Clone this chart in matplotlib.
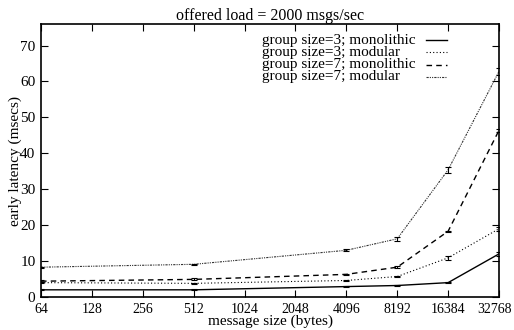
import numpy as np
import matplotlib.pyplot as plt
import matplotlib.transforms as mtransforms

# message sizes (bytes) and latencies (msecs)
sizes = [64, 512, 4096, 8192, 16384, 32768]
gs3_mono = [2.0, 2.0, 2.9, 3.2, 4.0, 12.0]
gs3_mod = [4.0, 3.8, 4.6, 5.7, 10.9, 19.0]
gs7_mono = [4.4, 4.9, 6.3, 8.3, 18.3, 46.4]
gs7_mod = [8.3, 9.1, 13.0, 16.2, 35.4, 62.8]

gs3_mono_err = [0.1, 0.1, 0.1, 0.1, 0.1, 0.5]
gs3_mod_err = [0.1, 0.2, 0.2, 0.2, 0.6, 0.6]
gs7_mono_err = [0.2, 0.3, 0.2, 0.2, 0.2, 0.4]
gs7_mod_err = [0.1, 0.2, 0.3, 0.5, 0.8, 1.0]

labels = ["group size=3; monolithic", "group size=3; modular",
          "group size=7; monolithic", "group size=7; modular"]
xticks = [64, 128, 256, 512, 1024, 2048, 4096, 8192, 16384, 32768]
yticks = [0, 10, 20, 30, 40, 50, 60, 70]

plt.rcParams['font.family'] = ['Liberation Serif', 'DejaVu Serif']
plt.rcParams['font.size'] = 11

fig = plt.figure(figsize=(5.14, 3.30), dpi=100)
ax = fig.add_axes([41/514, 1-297/330, 458/514, 273/330])

styles = [dict(ls='-', lw=1.0, color='black'),
          dict(ls=(0, (1, 2)), lw=0.8, color='black'),
          dict(ls=(0, (4, 3)), lw=1.0, color='black'),
          dict(ls=(0, (2, 1, 1, 1, 1, 1)), lw=0.8, color='#333333')]
series = [(gs3_mono, gs3_mono_err), (gs3_mod, gs3_mod_err),
          (gs7_mono, gs7_mono_err), (gs7_mod, gs7_mod_err)]

for (vals, err), st in zip(series, styles):
    ax.plot(sizes, vals, **st)
    ax.errorbar(sizes, vals, yerr=err, fmt='none', ecolor='black',
                elinewidth=0.8, capsize=2.5, capthick=0.8)

# gnuplot style key: text left, line sample right
for i, (lab, st) in enumerate(zip(labels, styles)):
    yk = 0.941 - i * 0.045
    ax.text(0.4825, yk, lab, transform=ax.transAxes, ha='left', va='center')
    ax.plot([0.841, 0.886], [yk, yk], transform=ax.transAxes, **st)

ax.set_xscale('log', base=2)
ax.set_xlim(64, 32768)
ax.set_ylim(0, 76)
ax.set_xticks(xticks)
ax.set_xticklabels([str(v) for v in xticks])
ax.minorticks_off()
ax.set_yticks(yticks)
ax.tick_params(direction='in', top=True, right=True, length=5, width=0.8, pad=4)
ax.tick_params(axis='x', labelsize=10)
for s in ax.spines.values():
    s.set_linewidth(1.2)

# nudge the last x label so it stays inside the figure
last = ax.get_xticklabels()[-1]
last.set_transform(last.get_transform() +
                   mtransforms.ScaledTranslation(-4/100, 0, fig.dpi_scale_trans))

ax.set_xlabel("message size (bytes)", labelpad=-1)
ax.set_ylabel("early latency (msecs)", labelpad=-1)
ax.set_title("offered load = 2000 msgs/sec", fontsize=11.5, pad=3)

fig.savefig('out.png', dpi=100)
